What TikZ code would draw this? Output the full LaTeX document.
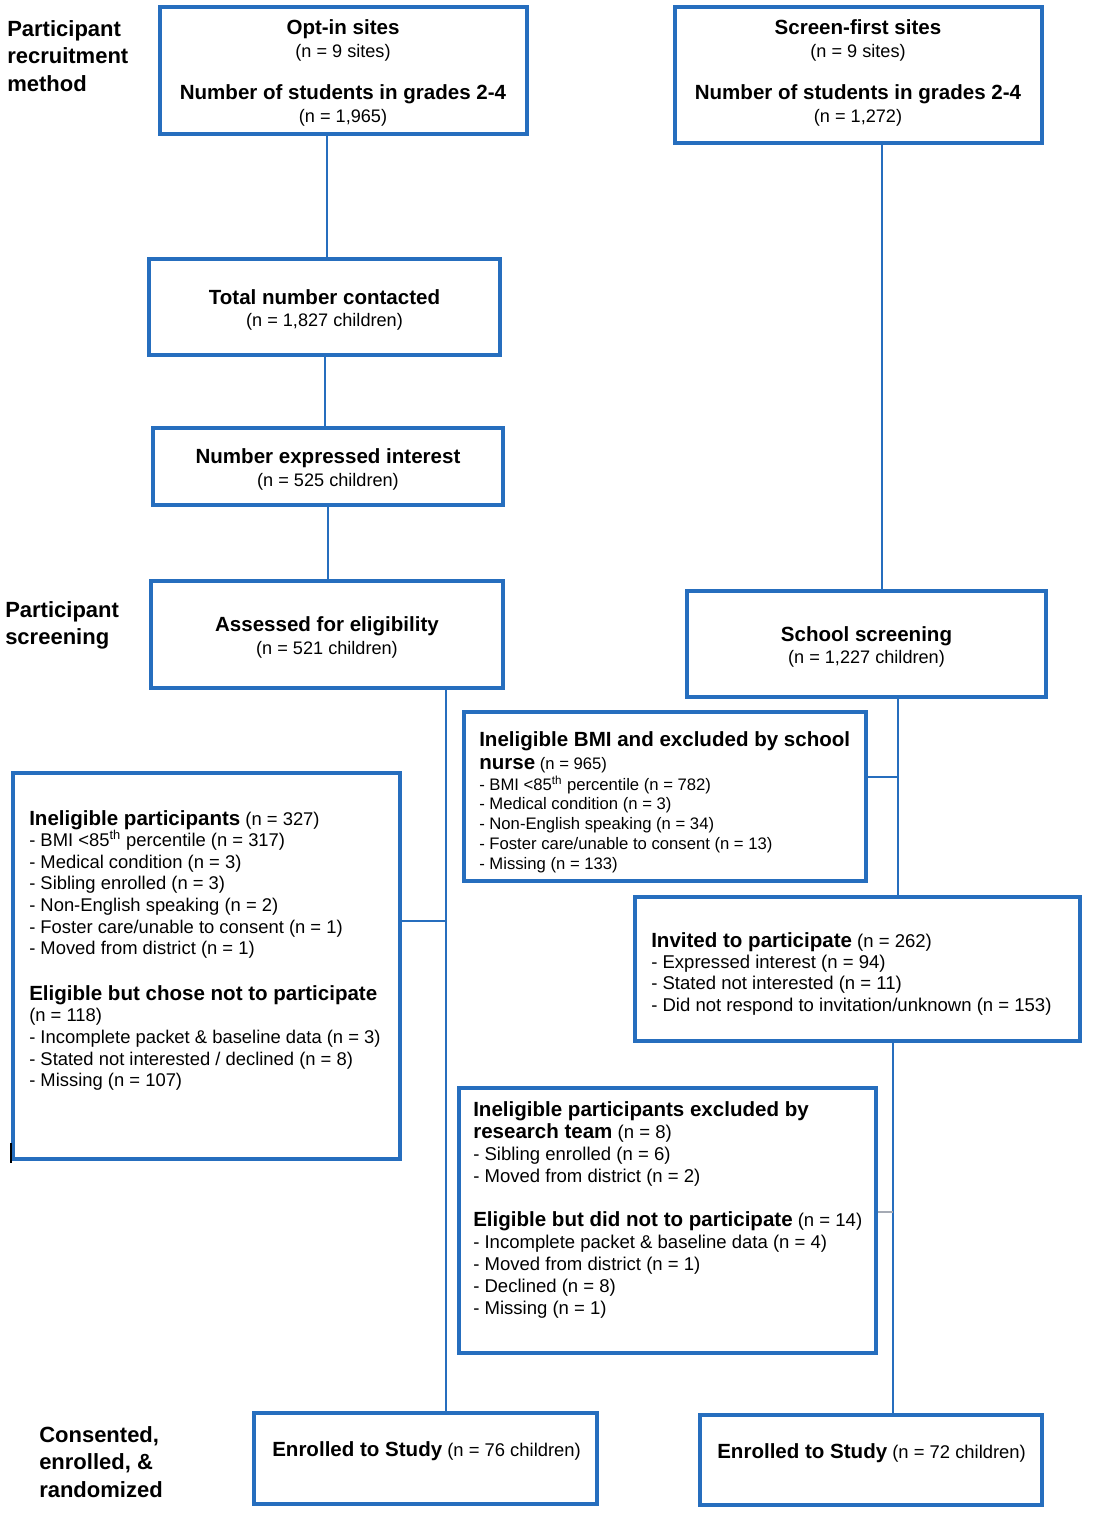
\documentclass[tikz,border=0pt]{standalone}
\usepackage{fontspec}
\setmainfont{Liberation Sans}
\usetikzlibrary{fit}
\definecolor{flowblue}{RGB}{38,110,190}
\definecolor{branchgrey}{RGB}{165,170,180}
\newcommand{\hd}[1]{{\fontsize{15.4}{17}\selectfont\bfseries #1}}
\tikzset{
  flowbox/.style={draw=flowblue, line width=2.3pt, inner sep=0pt},
  boxcentre/.style={inner sep=0pt, align=center, yshift=-2.2pt,
    font=\fontsize{13.6}{17}\selectfont},
  boxtext/.style={anchor=north west, inner sep=0pt, align=left,
    font=\fontsize{13.8}{16.2}\selectfont},
  sidelabel/.style={anchor=north west, inner sep=0pt, align=left,
    font=\fontsize{16.5}{20.6}\selectfont\bfseries},
  link/.style={draw=flowblue, line width=1.1pt},
}
\begin{document}
\begin{tikzpicture}[x=0.75pt,y=-0.75pt]
      \useasboundingbox (0,0) rectangle (1092,1513);
      % row labels
      \node[sidelabel] (lrecruit) at (7,20) {Participant\\recruitment\\method};
      \node[sidelabel] (lscreen) at (5,601) {Participant\\screening};
      \node[sidelabel] (lenrol) at (39,1426) {Consented,\\enrolled, \&\\randomized};
      % opt-in column
      \node[flowbox, fit={(160,7) (527,134)}] (optin) {};
      \node[boxcentre] (optin-t) at (343,70)
        {\hd{Opt-in sites}\\(n = 9 sites)\\[15pt]\hd{Number of students in grades 2-4}\\(n = 1,965)};
      \node[flowbox, fit={(149,259) (500,355)}] (contact) {};
      \node[boxcentre] (contact-t) at (contact) {\hd{Total number contacted}\\(n = 1,827 children)};
      \node[flowbox, fit={(153,428) (503,505)}] (interest) {};
      \node[boxcentre] (interest-t) at (interest) {\hd{Number expressed interest}\\(n = 525 children)};
      \node[flowbox, fit={(151,581) (503,688)}] (assessed) {};
      \node[boxcentre] (assessed-t) at (assessed) {\hd{Assessed for eligibility}\\(n = 521 children)};
      \node[flowbox, fit={(13,773) (400,1159)}] (inelig) {};
      \node[boxtext] (inelig-t) at (29,810)
        {\hd{Ineligible participants} (n = 327)\\
         - BMI <85\textsuperscript{th} percentile (n = 317)\\
         - Medical condition (n = 3)\\
         - Sibling enrolled (n = 3)\\
         - Non-English speaking (n = 2)\\
         - Foster care/unable to consent (n = 1)\\
         - Moved from district (n = 1)\\[18pt]
         \hd{Eligible but chose not to participate}\\
         (n = 118)\\
         - Incomplete packet \& baseline data (n = 3)\\
         - Stated not interested / declined (n = 8)\\
         - Missing (n = 107)};
      \node[flowbox, fit={(254,1413) (597,1504)}] (enrolA) {};
      \node[boxtext] (enrolA-t) at (272,1441) {\hd{Enrolled to Study} (n = 76 children)};
      % screen-first column
      \node[flowbox, fit={(675,7) (1042,143)}] (screen) {};
      \node[boxcentre] (screen-t) at (858,70)
        {\hd{Screen-first sites}\\(n = 9 sites)\\[15pt]\hd{Number of students in grades 2-4}\\(n = 1,272)};
      \node[flowbox, fit={(687,591) (1046,697)}] (school) {};
      \node[boxcentre] (school-t) at (school) {\hd{School screening}\\(n = 1,227 children)};
      \node[flowbox, fit={(464,712) (866,881)}] (bmi) {};
      \node[boxtext, font=\fontsize{12.5}{14.8}\selectfont] (bmi-t) at (479,731)
        {\hd{Ineligible BMI and excluded by school}\\[2.4pt]
         \hd{nurse} (n = 965)\\[1pt]
         - BMI <85\textsuperscript{th} percentile (n = 782)\\
         - Medical condition (n = 3)\\
         - Non-English speaking (n = 34)\\
         - Foster care/unable to consent (n = 13)\\
         - Missing (n = 133)};
      \node[flowbox, fit={(635,897) (1080,1041)}] (invited) {};
      \node[boxtext, font=\fontsize{13.9}{16}\selectfont] (invited-t) at (651,932)
        {\hd{Invited to participate} (n = 262)\\
         - Expressed interest (n = 94)\\
         - Stated not interested (n = 11)\\
         - Did not respond to invitation/unknown (n = 153)};
      \node[flowbox, fit={(459,1088) (876,1353)}] (team) {};
      \node[boxtext, font=\fontsize{13.9}{16.6}\selectfont] (team-t) at (473,1101)
        {\hd{Ineligible participants excluded by}\\
         \hd{research team} (n = 8)\\
         - Sibling enrolled (n = 6)\\
         - Moved from district (n = 2)\\[16pt]
         \hd{Eligible but did not to participate} (n = 14)\\
         - Incomplete packet \& baseline data (n = 4)\\
         - Moved from district (n = 1)\\
         - Declined (n = 8)\\
         - Missing (n = 1)};
      \node[flowbox, fit={(700,1415) (1042,1505)}] (enrolB) {};
      \node[boxtext] (enrolB-t) at (717,1443) {\hd{Enrolled to Study} (n = 72 children)};
      % connector columns
      \coordinate (colA) at (327,200);
      \coordinate (colB) at (325,390);
      \coordinate (colC) at (328,540);
      \coordinate (colS) at (882,300);
      \coordinate (junA) at (446,921);
      \coordinate (junB) at (898,777);
      \coordinate (junC) at (893,1212);
      \begin{scope}[link]
        \draw (optin.south -| colA) to (contact.north -| colA);
        \draw (contact.south -| colB) to (interest.north -| colB);
        \draw (interest.south -| colC) to (assessed.north -| colC);
        \draw (assessed.south -| junA) to (enrolA.north -| junA);
        \draw (junA) to (inelig.east |- junA);
        \draw (screen.south -| colS) to (school.north -| colS);
        \draw (school.south -| junB) to (invited.north -| junB);
        \draw (junB) to (bmi.east |- junB);
        \draw (invited.south -| junC) to (enrolB.north -| junC);
        \draw[branchgrey, line width=0.8pt] (junC) to (team.east |- junC);
      \end{scope}
      \draw[black, line width=1.3pt] (11,1143) -- (11,1163);
    \end{tikzpicture}
\end{document}
